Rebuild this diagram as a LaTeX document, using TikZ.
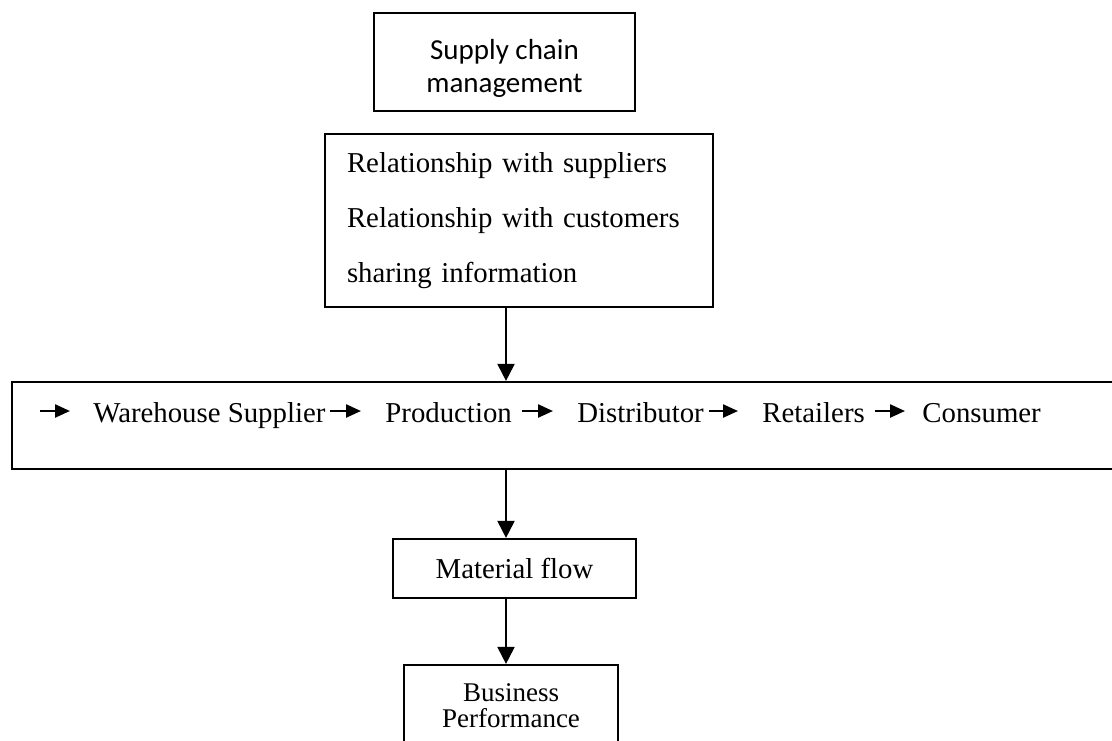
\documentclass[tikz,border=0pt]{standalone}
\usepackage{fontspec}
\setmainfont{Liberation Serif}
\newfontfamily\calibrifont{Carlito}
\usetikzlibrary{arrows.meta}

\begin{document}
\begin{tikzpicture}[x=0.5pt,y=-0.5pt,
  box/.style={draw=black, line width=1.1pt, inner sep=0pt},
  down/.style={line width=1pt, -{Triangle[length=8.5pt,width=8.5pt]}},
  link/.style={line width=1.2pt, -{Triangle[length=7.5pt,width=6.5pt]}, shorten >=12pt},
  item/.style={anchor=base west, inner sep=0pt, text height=13pt, text depth=2pt, font=\fontsize{14.4}{17}\selectfont}]
\useasboundingbox (0,0) rectangle (1112,740);
\node[box, minimum width=130.5pt, minimum height=49pt, align=center, font=\calibrifont\fontsize{14.5}{16.5}\selectfont] (scm) at (504.5,62) {\rule{0pt}{16.5pt}Supply chain\\management};
\node[box, minimum width=194pt, minimum height=86.5pt, text width=172pt, inner xsep=11pt, align=left, font=\fontsize{14.4}{27.5}\selectfont] (rel) at (519,220.5) {Relationship with suppliers\\Relationship with customers\\sharing information};
\node[box, minimum width=556.5pt, minimum height=43.5pt] (chain) at (568.5,425.5) {};
\coordinate (entry) at (40,411);
\node[item] (whs) at (93,422) {Warehouse Supplier};
\node[item] (prod) at (385,422) {Production};
\node[item] (dist) at (577,422) {Distributor};
\node[item] (ret) at (762,422) {Retailers};
\node[item] (cons) at (922,422) {Consumer};
\draw[link, shorten >=11.5pt] (entry) -- (whs.west);
\draw[link, shorten <=2pt] (whs.east) -- (prod.west);
\draw[link, shorten <=5pt] (prod.east) -- (dist.west);
\draw[link, shorten <=2.5pt] (dist.east) -- (ret.west);
\draw[link, shorten <=5pt, shorten >=8.5pt] (ret.east) -- (cons.west);
\node[box, minimum width=121.5pt, minimum height=29.5pt, font=\fontsize{14.4}{17}\selectfont] (mat) at (514.5,568.5) {Material flow};
\node[box, minimum width=107pt, minimum height=40.5pt, align=center, font=\fontsize{13.5}{13}\selectfont] (perf) at (511,705.5) {Business\\Performance};
\coordinate (axis) at (506,0);
\draw[down] (rel.south -| axis) -- (chain.north -| axis);
\draw[down] (chain.south -| axis) -- (mat.north -| axis);
\draw[down] (mat.south -| axis) -- (perf.north -| axis);
\end{tikzpicture}
\end{document}
